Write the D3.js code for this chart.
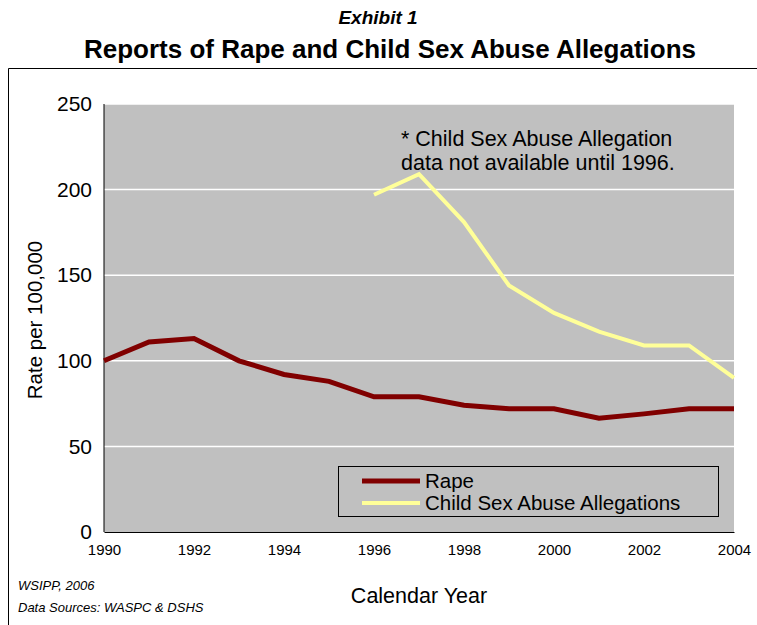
<!DOCTYPE html>
<html><head><meta charset="utf-8">
<script src="https://cdn.jsdelivr.net/npm/d3@7"></script>
<style>body{margin:0;background:#fff;font-family:Arial,"Liberation Sans",sans-serif}</style>
</head><body>
<svg id="chart" width="757" height="625"></svg>
<script>
const years = d3.range(1990, 2005);
const rape = [100, 111, 113, 100, 92, 88, 79, 79, 74, 72, 72, 66.5, 69, 72, 72];
const childYears = [1996, 1997, 1998, 1999, 2000, 2001, 2002, 2003, 2004];
const child = [197, 209, 181, 144, 128, 117, 109, 109, 90];
const yTicks = [0, 50, 100, 150, 200, 250];
const xTicks = d3.range(1990, 2005, 2);

const svg = d3.select("#chart");
const plot = {left: 104, right: 734, top: 104, bottom: 532};

const x = d3.scaleLinear().domain([1990, 2004]).range([plot.left, plot.right]);
const y = d3.scaleLinear().domain([0, 250]).range([plot.bottom, plot.top]);

// titles
svg.append("text").attr("x", 378).attr("y", 24).attr("text-anchor", "middle")
    .style("font-size", "19px").style("font-weight", "bold").style("font-style", "italic").text("Exhibit 1");
svg.append("text").attr("x", 390).attr("y", 58).attr("text-anchor", "middle")
    .style("font-size", "26px").style("font-weight", "bold").text("Reports of Rape and Child Sex Abuse Allegations");

// outer frame
svg.append("path").attr("d", "M8.5,625 V68.5 H757").attr("fill", "none").attr("stroke", "#000");

// plot area
svg.append("rect").attr("x", plot.left).attr("y", plot.top)
    .attr("width", plot.right - plot.left).attr("height", plot.bottom - plot.top)
    .attr("fill", "#c0c0c0");

svg.append("g").selectAll("line").data(yTicks.slice(1)).enter().append("line")
    .attr("x1", plot.left).attr("x2", plot.right).attr("y1", d => y(d)).attr("y2", d => y(d))
    .attr("stroke", "#fff").attr("stroke-width", 1.5);

const yAxis = svg.append("g").attr("transform", "translate(" + plot.left + ",0)")
    .call(d3.axisLeft(y).tickValues(yTicks).tickSize(0).tickPadding(12));
yAxis.select(".domain").remove();
yAxis.selectAll("text").style("font-size", "21px").style("font-family", "Arial,'Liberation Sans',sans-serif");

const xAxis = svg.append("g").attr("transform", "translate(0," + plot.bottom + ")")
    .call(d3.axisBottom(x).tickValues(xTicks).tickFormat(d3.format("d")).tickSize(0).tickPadding(12));
xAxis.select(".domain").attr("stroke", "#000");
xAxis.selectAll("text").style("font-size", "15px").style("font-family", "Arial,'Liberation Sans',sans-serif");
svg.append("line").attr("x1", plot.left).attr("x2", plot.left).attr("y1", plot.top).attr("y2", plot.bottom).attr("stroke", "#000");

svg.append("text").attr("transform", "translate(42," + (plot.top + 216) + ") rotate(-90)")
    .attr("text-anchor", "middle").style("font-size", "20.5px").text("Rate per 100,000");
svg.append("text").attr("x", 419).attr("y", 603).attr("text-anchor", "middle")
    .style("font-size", "21.5px").text("Calendar Year");

svg.append("text").attr("x", 18).attr("y", 590).style("font-size", "13px").style("font-style", "italic").text("WSIPP, 2006");
svg.append("text").attr("x", 18).attr("y", 612).style("font-size", "13px").style("font-style", "italic").text("Data Sources: WASPC & DSHS");

const line = d3.line().x(d => x(d[0])).y(d => y(d[1]));
svg.append("path").attr("d", line(years.map((yr, i) => [yr, rape[i]])))
    .attr("fill", "none").attr("stroke", "#800000").attr("stroke-width", 5);
svg.append("path").attr("d", line(childYears.map((yr, i) => [yr, child[i]])))
    .attr("fill", "none").attr("stroke", "#ffff99").attr("stroke-width", 4);

svg.append("text").attr("x", 401).attr("y", 146).style("font-size", "21.5px").text("* Child Sex Abuse Allegation");
svg.append("text").attr("x", 401).attr("y", 170).style("font-size", "21.5px").text("data not available until 1996.");

// legend
const lg = svg.append("g");
lg.append("rect").attr("x", 338.5).attr("y", 466.5).attr("width", 380).attr("height", 50)
    .attr("fill", "#c0c0c0").attr("stroke", "#000");
[["Rape", "#800000", 5], ["Child Sex Abuse Allegations", "#ffff99", 4]].forEach((d, i) => {
    const yy = 481 + i * 22;
    lg.append("line").attr("x1", 362).attr("x2", 420).attr("y1", yy).attr("y2", yy)
        .attr("stroke", d[1]).attr("stroke-width", d[2]);
    lg.append("text").attr("x", 425).attr("y", yy + 7).style("font-size", "20.5px").text(d[0]);
});
</script>
</body></html>
